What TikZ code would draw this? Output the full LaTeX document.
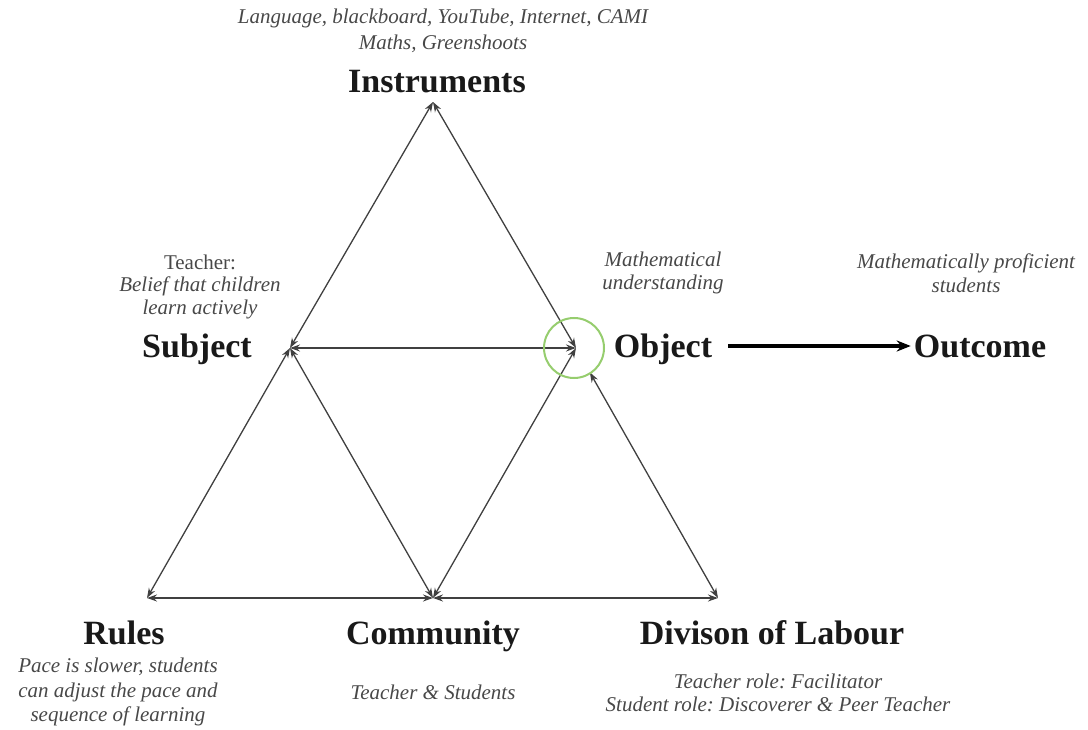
\documentclass[tikz,border=0pt]{standalone}
\usepackage{fontspec}
\setmainfont{Liberation Serif}
\usetikzlibrary{arrows.meta}
\definecolor{notecol}{RGB}{72,72,72}
\definecolor{ringgreen}{RGB}{150,205,110}
\frenchspacing
\begin{document}
\begin{tikzpicture}[x=1pt,y=-1pt,
  head/.style={font=\fontsize{34}{38}\selectfont\bfseries, text=black!90, inner sep=0pt, anchor=base},
  note/.style={font=\fontsize{21}{25.5}\selectfont\itshape, text=notecol, align=center, inner sep=0pt},
  plain/.style={font=\fontsize{21}{25}\selectfont, text=notecol, inner sep=0pt},
  tip/.tip={Stealth[length=10pt,width=7pt]},
  link/.style={draw=black!75, line width=1.3pt, tip-tip},
]
\useasboundingbox (0,0) rectangle (1088,730);

% corners of the activity triangle
\coordinate (I) at (433,102);
\coordinate (S) at (290,348);
\coordinate (O) at (576,348);
\coordinate (R) at (147,598);
\coordinate (C) at (433,598);
\coordinate (D) at (718,598);

% triangle connectors
\draw[link] (S) -- (I);
\draw[link] (I) -- (O);
\draw[link] (S) -- (O);
\draw[link] (S) -- (R);
\draw[link] (S) -- (C);
\draw[link] (O) -- (C);
\draw[link, shorten <=28pt] (O) -- (D);
\draw[link] (R) -- (C);
\draw[link] (C) -- (D);

% highlight ring on the object corner
\node[draw=ringgreen, line width=2pt, circle, minimum size=60pt, inner sep=0pt] (ring) at (574,348) {};

% headings
\node[head] (instr) at (437,93) {Instruments};
\node[head] (subj) at (197,357) {Subject};
\node[head] (obj) at (663,357) {Object};
\node[head] (outc) at (980,357) {Outcome};
\node[head] (rules) at (124,644) {Rules};
\node[head] (comm) at (433,644) {Community};
\node[head] (div) at (772,644) {Divison of Labour};

% object to outcome
\draw[line width=3.5pt, -{Stealth[length=14pt,width=11pt]}, shorten <=16pt, shorten >=3pt] (obj.east |- 0,346) -- (outc.west |- 0,346);

% annotations
\node[note] (instrnote) at (443,31) {Language, blackboard, YouTube, Internet, CAMI\\Maths, Greenshoots};
\node[plain] (teach) at (200,262) {Teacher:};
\node[note] (belief) at (200,298) {Belief that children\\[-2pt]learn actively};
\node[note] (objnote) at (663,273) {Mathematical\\[-2pt]understanding};
\node[note] (outnote) at (966,273) {Mathematically proficient\\[-2pt]students};
\node[note] (rulenote) at (118,692) {Pace is slower, students\\[-1pt]can adjust the pace and\\[-1pt]sequence of learning};
\node[note] (commnote) at (433,692) {Teacher \& Students};
\node[note] (divnote) at (778,693) {Teacher role: Facilitator\\[-2pt]Student role: Discoverer \& Peer Teacher};
\end{tikzpicture}
\end{document}
